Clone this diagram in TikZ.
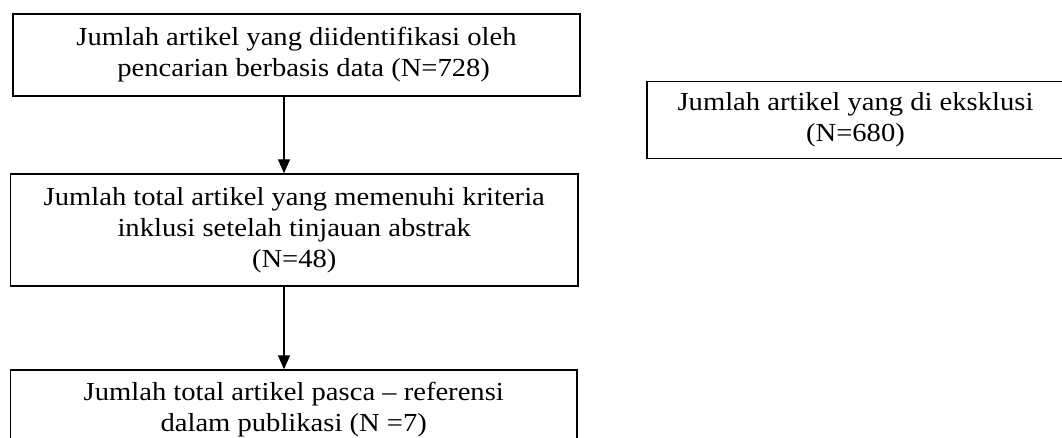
\documentclass[tikz,border=0pt]{standalone}
\usepackage{fontspec}
\setmainfont{Liberation Serif}[FakeStretch=1.1]
\usetikzlibrary{arrows.meta}
\tikzset{
  box/.style={draw=black, line width=1.4pt, inner sep=0pt, align=center,
    font=\fontsize{26}{31}\selectfont},
  flow/.style={line width=1.2pt, -{Triangle[width=12pt,length=14pt]}}
}
\begin{document}
\begin{tikzpicture}
\useasboundingbox (0pt,0pt) rectangle (1062pt,-438pt);
\clip (0pt,0pt) rectangle (1062pt,-438pt);
\node[box, minimum width=567pt, minimum height=82pt] (b1) at (296.5pt,-55pt)
  {Jumlah artikel yang diidentifikasi oleh\\ \ \ pencarian berbasis data (N=728)};
\node[box, minimum width=567.5pt, minimum height=112pt] (b2) at (294.25pt,-230pt)
  {Jumlah total artikel yang memenuhi kriteria\\inklusi setelah tinjauan abstrak\\(N=48)};
\node[box, minimum width=566.5pt, minimum height=80pt] (b3) at (293.75pt,-410pt)
  {Jumlah total artikel pasca -- referensi\\dalam publikasi (N =7)};
\node[box, minimum width=417pt, minimum height=77pt] (b4) at (855.5pt,-120pt)
  {Jumlah artikel yang di eksklusi\\(N=680)};
\coordinate (ax) at (284pt,0pt);
\draw[flow] (b1.south -| ax) -- (b2.north -| ax);
\draw[flow] (b2.south -| ax) -- (b3.north -| ax);
\end{tikzpicture}
\end{document}
